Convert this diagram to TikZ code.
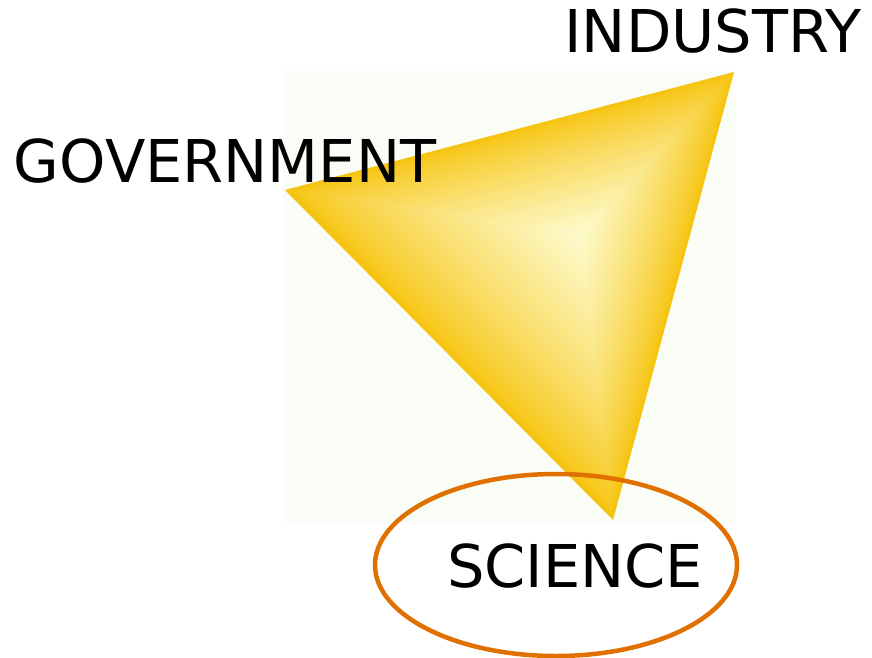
\documentclass[tikz,border=0pt]{standalone}
\usepackage{fontspec}
\setmainfont{DejaVu Sans}
\usetikzlibrary{calc,shapes.geometric}
\definecolor{bgpale}{RGB}{249,253,246}
\definecolor{goldedge}{RGB}{246,196,16}
\definecolor{palecore}{RGB}{253,250,202}
\definecolor{ringorange}{RGB}{224,112,0}
\tikzset{
  label text/.style={inner sep=0pt, anchor=base, font=\fontsize{59}{59}\selectfont, text=black},
  ring/.style={draw=ringorange, line width=4.5pt, ellipse, minimum width=362pt, minimum height=182pt, inner sep=0pt}
}
\begin{document}
\begin{tikzpicture}[x=1pt,y=-1pt]
\useasboundingbox (0,0) rectangle (872,658);
\fill[white] (0,0) rectangle (872,658);
% pale backdrop square
\fill[bgpale] (283,71) rectangle (735,522);
% triangle corners
\coordinate (G) at (285,190);
\coordinate (I) at (734,72);
\coordinate (S) at (613,520);
\coordinate (P) at (580,235);
% nested triangles for bevel-like shading
\foreach \i in {0,...,40}{
  \pgfmathsetmacro\s{1-\i/40*0.97}
  \pgfmathsetmacro\p{100*(\i/40)^0.8}
  \fill[palecore!\p!goldedge] ($(P)!\s!(G)$) -- ($(P)!\s!(I)$) -- ($(P)!\s!(S)$) -- cycle;
}
% labels
\node[label text] (ind) at (713,53) {INDUSTRY};
\node[label text] (gov) at (225,182) {GOVERNMENT};
\node[ring] (ring) at (556,565) {};
\node[label text] (sci) at (575,587) {SCIENCE};
\end{tikzpicture}
\end{document}
